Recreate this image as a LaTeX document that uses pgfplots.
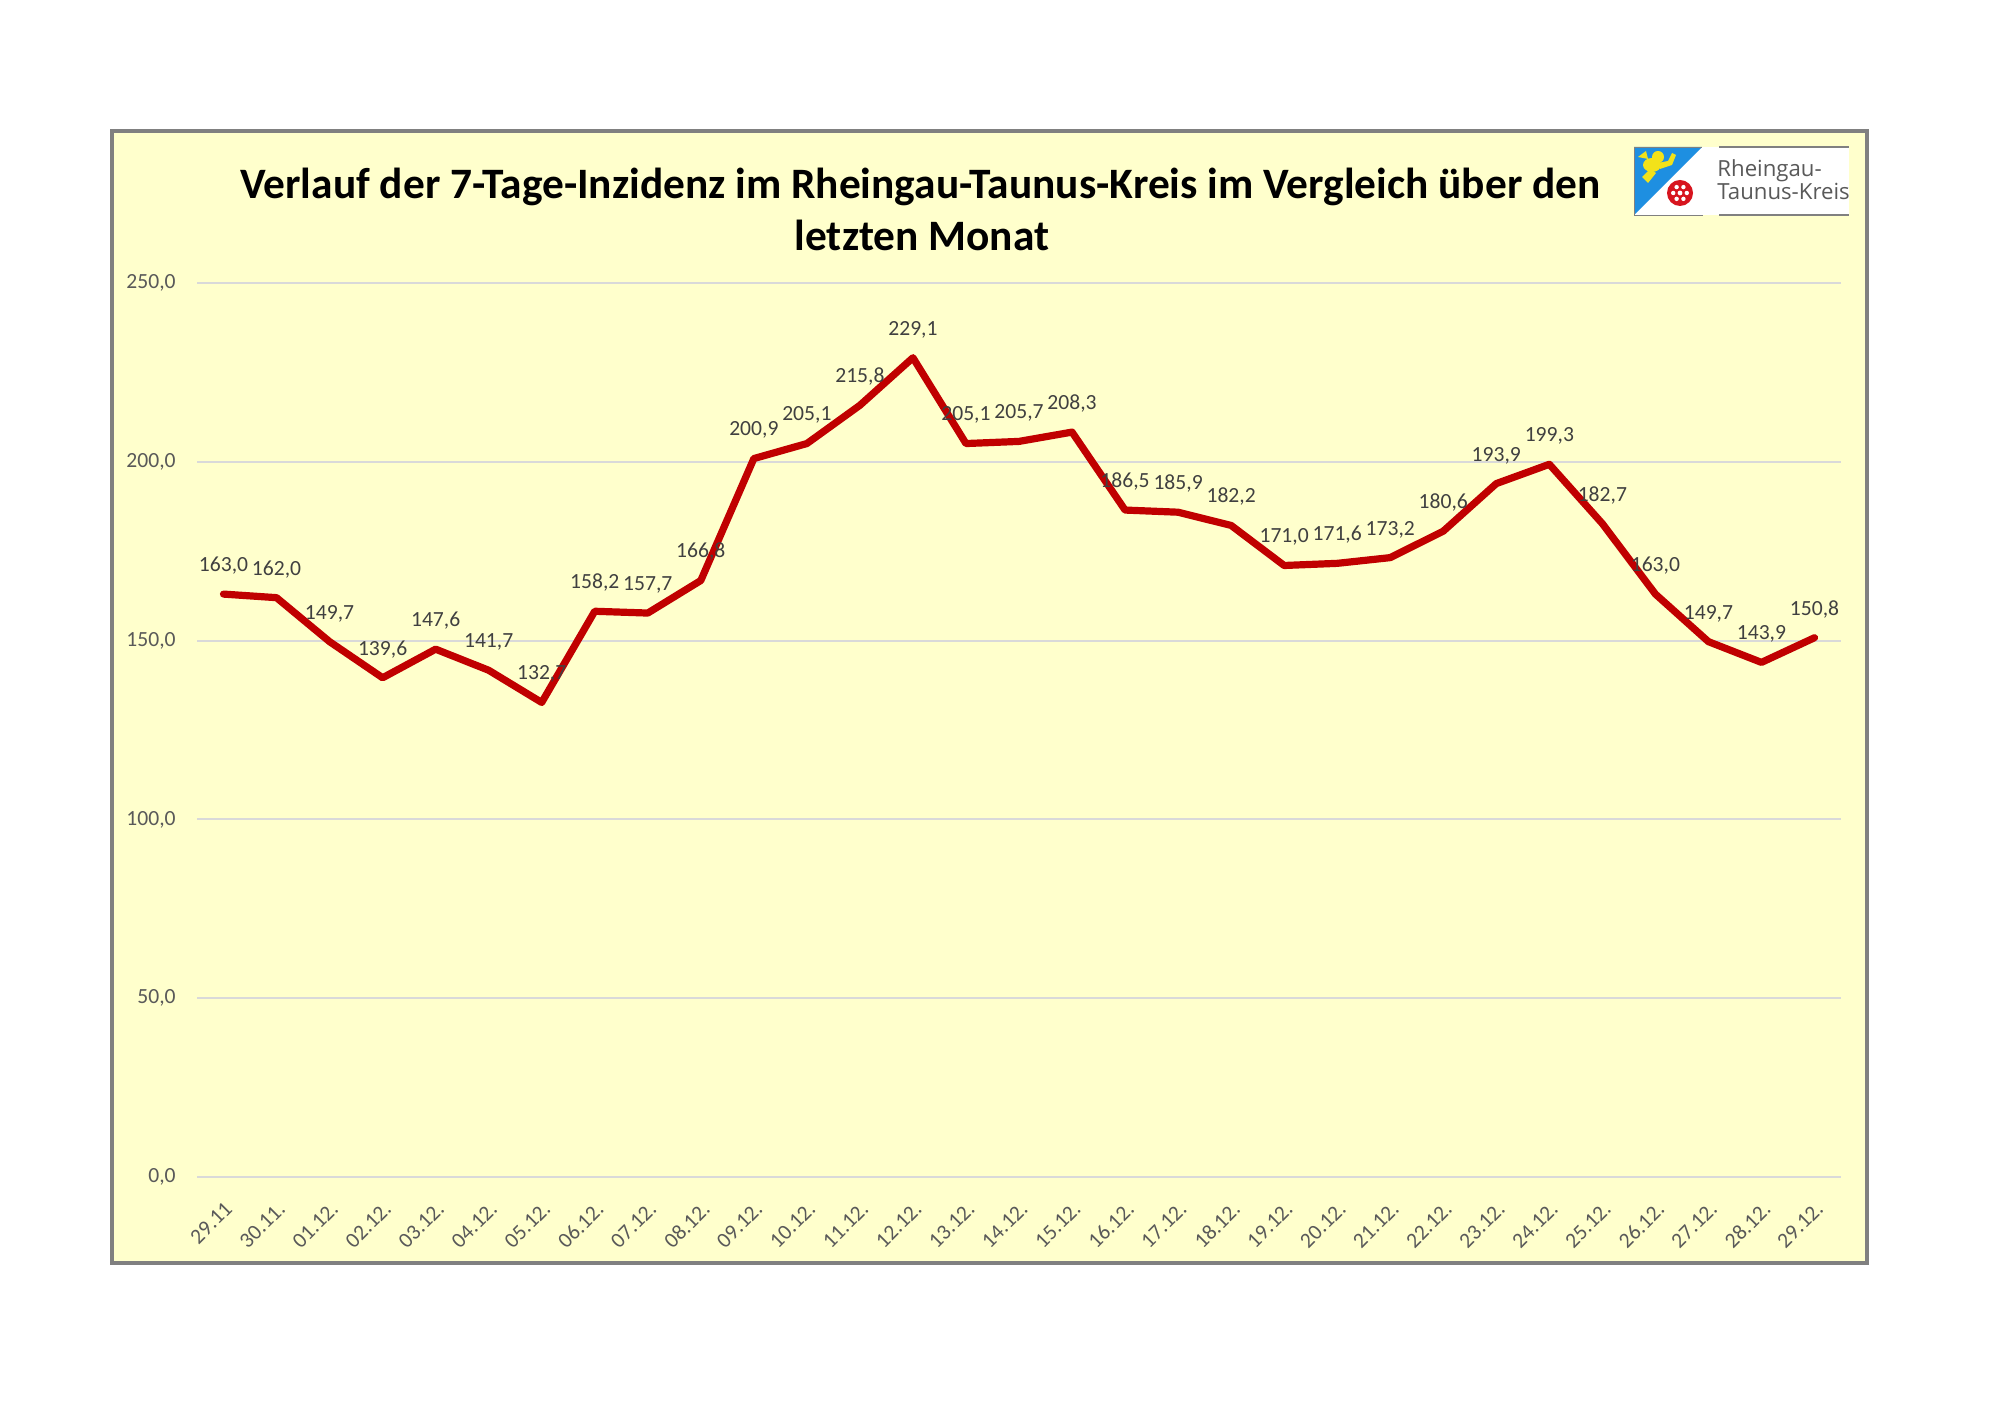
\documentclass[border=0pt]{standalone}
\usepackage{fontspec}
\setmainfont{Carlito}
\newfontfamily\logofont{Open Sans}
\usepackage{pgfplots}
\usepackage{pgfplotstable}
\pgfplotsset{compat=1.18}
\definecolor{bgyellow}{HTML}{FFFFCC}
\definecolor{framegray}{HTML}{808080}
\definecolor{gridgray}{HTML}{D9D9D9}
\definecolor{linered}{HTML}{C00000}
\definecolor{labelgray}{HTML}{404040}
\definecolor{tickgray}{HTML}{595959}
\definecolor{logoblue}{HTML}{1E8FE1}
\definecolor{lionyellow}{HTML}{F2E21A}
\definecolor{wheelred}{HTML}{D7141E}

\pgfplotstableread{
x y
0 163.0
1 162.0
2 149.7
3 139.6
4 147.6
5 141.7
6 132.7
7 158.2
8 157.7
9 166.8
10 200.9
11 205.1
12 215.8
13 229.1
14 205.1
15 205.7
16 208.3
17 186.5
18 185.9
19 182.2
20 171.0
21 171.6
22 173.2
23 180.6
24 193.9
25 199.3
26 182.7
27 163.0
28 149.7
29 143.9
30 150.8
}\datatable

\begin{document}
\begin{tikzpicture}[x=1pt,y=1pt]
\fill[white] (0,0) rectangle (1003.5,708.5);
\filldraw[fill=bgyellow, draw=framegray, line width=2pt] (56,77) rectangle (933.5,643);
\node[anchor=base, inner sep=0pt, font=\fontsize{21.7}{25}\selectfont\bfseries] at (460.25,609) {Verlauf der 7-Tage-Inzidenz im Rheingau-Taunus-Kreis im Vergleich über den};
\node[anchor=base, inner sep=0pt, font=\fontsize{21.7}{25}\selectfont\bfseries] at (461,583) {letzten Monat};
% logo
\fill[white] (817,601) rectangle (851,635);
\fill[logoblue] (817,601) -- (817,635) -- (851,635) -- cycle;
\fill[lionyellow] (826,626) ellipse (4.5 and 3.5);
\fill[lionyellow] (829,630) circle (3);
\fill[lionyellow] (821,620) -- (825,624) -- (828,622) -- (824,617) -- cycle;
\fill[lionyellow] (830,624) -- (836,626) -- (838,631) -- (836,632) -- (834,628) -- (829,627) -- cycle;
\fill[lionyellow] (819,630) -- (823,633) -- (824,629) -- cycle;
\fill[wheelred] (840,612) circle (6.5);
\foreach \a in {0,60,...,300}{\fill[white] (840,612) ++(\a:3.4) circle (1.1);}
\fill[white] (840,612) circle (1.2);
\draw[gray, line width=0.4pt] (817,601) rectangle (851,635);
\fill[white] (851,601) rectangle (924.5,635);
\draw[framegray, line width=0.8pt] (859.5,635) -- (924.5,635);
\draw[framegray, line width=0.8pt] (859.5,601) -- (924.5,601);
\node[anchor=base west, inner sep=0pt, text=tickgray, font=\logofont\fontsize{11.1}{13}\selectfont] at (858.5,620) {Rheingau-};
\node[anchor=base west, inner sep=0pt, text=tickgray, font=\logofont\fontsize{11.1}{13}\selectfont] at (858.5,608.5) {Taunus-Kreis};
\begin{axis}[
  at={(98.5pt,120pt)}, anchor=south west,
  scale only axis, width=822pt, height=447pt,
  xmin=-0.5, xmax=30.5, ymin=0, ymax=250,
  ytick={0,50,...,250},
  xtick={0,...,30},
  xticklabels={29.11,30.11.,01.12.,02.12.,03.12.,04.12.,05.12.,06.12.,07.12.,08.12.,09.12.,10.12.,11.12.,12.12.,13.12.,14.12.,15.12.,16.12.,17.12.,18.12.,19.12.,20.12.,21.12.,22.12.,23.12.,24.12.,25.12.,26.12.,27.12.,28.12.,29.12.},
  axis line style={draw=none},
  major tick length=0pt,
  ymajorgrids,
  grid style={gridgray, line width=1pt},
  /pgf/number format/.cd, fixed, fixed zerofill, precision=1, use comma, assume math mode=true,
  /pgfplots/.cd,
  yticklabel style={anchor=east, inner sep=0pt, xshift=-10.5pt, text=tickgray, font=\fontsize{10.8}{12}\selectfont},
  xticklabel style={rotate=45, anchor=north east, inner sep=0pt, text=tickgray, font=\fontsize{10.8}{12}\selectfont},
  xticklabel shift=11.5pt,
  clip=false,
]
\addplot[draw=none, nodes near coords, every node near coord/.style={anchor=base, inner sep=0pt, yshift=11.3pt, text=labelgray, font=\fontsize{10.8}{12}\selectfont}] table[x=x,y=y] {\datatable};
\addplot[linered, line width=3.6pt, line join=round, line cap=round] table[x=x,y=y] {\datatable};
\end{axis}
\end{tikzpicture}
\end{document}
